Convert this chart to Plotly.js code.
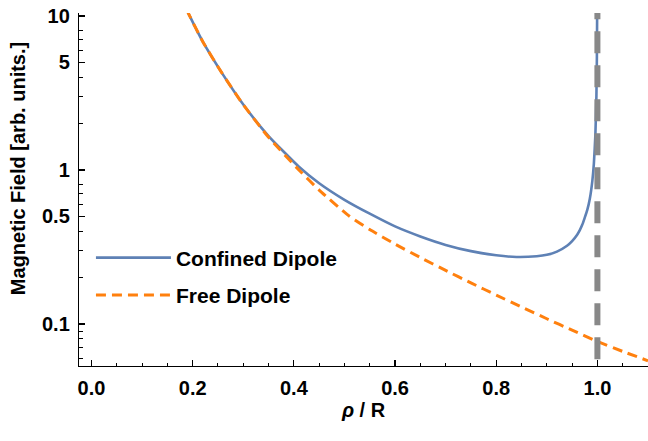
<!DOCTYPE html>
<html><head><meta charset="utf-8">
<script src="https://cdn.plot.ly/plotly-3.0.1.min.js"></script>
<style>html,body{margin:0;padding:0;background:#fff}#chart{width:648px;height:441px}</style>
</head><body><div id="chart"></div>
<script>
// ρ/R sample positions and field values
const rhoConfined = [0.188, 0.194, 0.22, 0.257, 0.3, 0.35, 0.41, 0.45, 0.5, 0.55, 0.6, 0.65, 0.7, 0.75, 0.8, 0.84, 0.88, 0.9, 0.92, 0.94, 0.95, 0.96, 0.965, 0.97, 0.975, 0.98, 0.985, 0.99, 0.993, 0.996, 0.998, 0.999, 0.9995];
const fieldConfined = [11.0, 10.0, 6.8, 4.3, 2.66, 1.66, 1.05, 0.82, 0.64, 0.52, 0.43, 0.37, 0.326, 0.297, 0.279, 0.272, 0.275, 0.281, 0.295, 0.322, 0.345, 0.38, 0.405, 0.44, 0.49, 0.55, 0.65, 0.85, 1.1, 1.7, 3.0, 5.5, 11.0];
const rhoFree = [0.188, 0.194, 0.22, 0.257, 0.3, 0.35, 0.41, 0.45, 0.51, 0.55, 0.6, 0.65, 0.7, 0.75, 0.8, 0.85, 0.9, 0.95, 1.0, 1.05, 1.1];
const fieldFree = [11.0, 10.0, 6.8, 4.3, 2.65, 1.63, 1.0, 0.74, 0.5, 0.41, 0.33, 0.27, 0.2226, 0.1847, 0.154, 0.1288, 0.1081, 0.0911, 0.077, 0.0663, 0.0577];
const wallRho = [1, 1];
const wallField = [13.2, 0.04];
const seriesNames = ["Confined Dipole", "Free Dipole"];
const xTickVals = [0, 0.2, 0.4, 0.6, 0.8, 1.0];
const xTickText = ["0.0", "0.2", "0.4", "0.6", "0.8", "1.0"];
const yTickVals = [0.1, 0.5, 1, 5, 10];
const yTickText = ["0.1", "0.5", "1", "5", "10"];
const yMinorVals = [0.06, 0.07, 0.08, 0.09, 0.2, 0.3, 0.4, 0.6, 0.7, 0.8, 2, 3, 4, 6, 7, 8];
const yTitle = "Magnetic Field [arb. units.]";
const xTitle = "<i>ρ</i> / R";

const FONT = 'Liberation Sans, Arial, Helvetica, sans-serif';
const F = (s) => ({family: FONT, size: s, color: '#000', weight: 'bold'});
const traces = [
  {x: rhoConfined, y: fieldConfined, name: seriesNames[0], type: 'scatter', mode: 'lines',
   line: {color: '#5E81B5', width: 2.6, shape: 'spline', smoothing: 0.5}, legendgroup: 'a'},
  {x: rhoFree, y: fieldFree, name: seriesNames[1], type: 'scatter', mode: 'lines',
   line: {color: '#FF800E', width: 3, dash: '10px,6px', shape: 'spline', smoothing: 0.5}, legendgroup: 'b'},
  {x: wallRho, y: wallField, type: 'scatter', mode: 'lines', showlegend: false, hoverinfo: 'skip',
   line: {color: '#888888', width: 6, dash: '22px,12px'}}
];
const layout = {
  width: 648, height: 441,
  margin: {l: 79, r: 0, t: 13, b: 75, pad: 0},
  paper_bgcolor: '#fff', plot_bgcolor: '#fff',
  font: F(20),
  showlegend: true,
  legend: {x: 0.021, y: 0.364, xanchor: 'left', yanchor: 'top', bgcolor: 'rgba(0,0,0,0)',
           font: F(21), itemwidth: 75, tracegroupgap: 7},
  xaxis: {range: [-0.0247, 1.1], showline: true, linecolor: '#000', linewidth: 1.2, mirror: false,
          ticks: 'inside', ticklen: 6, tickwidth: 1.2, tickcolor: '#000',
          tickmode: 'array', tickvals: xTickVals, ticktext: xTickText,
          tickfont: F(20), ticklabelstandoff: 4,
          minor: {tickmode: 'linear', tick0: 0, dtick: 0.05, ticks: 'inside', ticklen: 3.5, tickwidth: 1, tickcolor: '#000', showgrid: false},
          showgrid: false, zeroline: false,
          title: {text: xTitle, font: F(20), standoff: 0}},
  yaxis: {type: 'log', range: [-1.273, 1.019], showline: true, linecolor: '#000', linewidth: 1.2, mirror: false,
          ticks: 'inside', ticklen: 6, tickwidth: 1.2, tickcolor: '#000',
          tickmode: 'array', tickvals: yTickVals, ticktext: yTickText,
          tickfont: F(20), ticklabelstandoff: 4,
          minor: {tickmode: 'array', tickvals: yMinorVals, ticks: 'inside', ticklen: 3.5, tickwidth: 1, tickcolor: '#000', showgrid: false},
          showgrid: false, zeroline: false},
  annotations: [{text: yTitle, textangle: -90, xref: 'paper', yref: 'paper', x: -0.107, y: 0.558,
                 xanchor: 'center', yanchor: 'middle', showarrow: false, font: F(20)}]
};
Plotly.newPlot('chart', traces, layout, {displayModeBar: false, staticPlot: true});
</script></body></html>
